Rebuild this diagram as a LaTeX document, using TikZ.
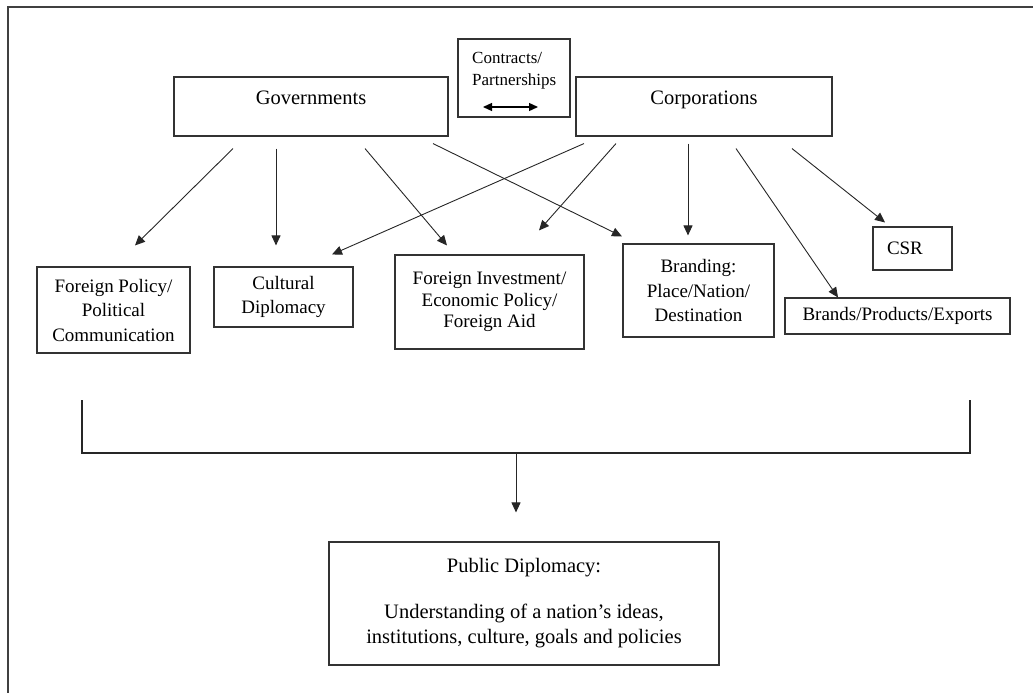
\documentclass[tikz,border=0pt]{standalone}
\usepackage{fontspec}
\setmainfont{Liberation Serif}
\usetikzlibrary{arrows.meta}
\tikzset{
  box/.style={draw=black!80, line width=1.1pt, inner sep=0pt, align=center,
    font=\fontsize{19}{24.5}\selectfont},
  arr/.style={-{Triangle[length=10pt,width=9pt]}, line width=0.9pt, black!85},
}
\begin{document}
\begin{tikzpicture}[x=1pt,y=-1pt]
\useasboundingbox (0,0) rectangle (1033,693);
\draw[line width=1.3pt, black!75] (8,693) -- (8,7) -- (1033,7);
%
\node[box, minimum width=274pt, text height=27pt, text depth=32pt,
  font=\fontsize{20.5}{25}\selectfont] (gov) at (311,106.5) {Governments};
\node[box, minimum width=256pt, text height=27pt, text depth=32pt,
  font=\fontsize{20.5}{25}\selectfont] (corp) at (704,106.5) {Corporations};
\node[box, minimum width=112pt, minimum height=78pt] (contr) at (514,78) {};
\node[anchor=north west, inner sep=0pt, align=left,
  font=\fontsize{17}{22}\selectfont] (contrtxt) at (472,52) {Contracts/\\Partnerships};
\coordinate (cl) at (483,107);
\coordinate (cr) at (538,107);
\draw[{Triangle[length=9pt,width=8pt]}-{Triangle[length=9pt,width=8pt]}, line width=1.3pt] (cl) -- (cr);
%
\node[box, minimum width=153pt, minimum height=86pt] (fp) at (113.5,310) {Foreign Policy/\\Political\\Communication};
\node[box, minimum width=139pt, minimum height=60pt] (cult) at (283.5,297) {Cultural\\Diplomacy};
\node[box, minimum width=189pt, minimum height=94pt,
  font=\fontsize{19}{21.7}\selectfont] (finv) at (489.5,302) {Foreign Investment/\\Economic Policy/\\Foreign Aid};
\node[box, minimum width=151pt, minimum height=93pt] (brand) at (698.5,290.5) {Branding:\\Place/Nation/\\Destination};
\node[box, minimum height=43pt, inner xsep=14pt, text width=51pt, align=left] (csr) at (912.5,248.5) {CSR};
\node[box, minimum width=225pt, minimum height=36pt] (brands) at (897.5,316) {Brands/Products/Exports};
%
\draw[arr] ([shift={(-78,12)}]gov.south) -- ([shift={(21.5,-21)}]fp.north);
\draw[arr] ([shift={(-35,12)}]gov.south) -- ([shift={(-7.5,-21)}]cult.north);
\draw[arr] ([shift={(54,12)}]gov.south) -- ([shift={(-42.5,-9)}]finv.north);
\draw[arr] ([shift={(122,7)}]gov.south) -- ([shift={(-76.5,-7)}]brand.north);
\draw[arr] ([shift={(-120,7)}]corp.south) -- ([shift={(48.5,-12)}]cult.north);
\draw[arr] ([shift={(-88,7)}]corp.south) -- ([shift={(49.5,-24)}]finv.north);
\draw[arr] ([shift={(-16,7)}]corp.south) -- ([shift={(-10.5,-8)}]brand.north);
\draw[arr] ([shift={(32,12)}]corp.south) -- ([shift={(-59.5,0)}]brands.north);
\draw[arr] ([shift={(88,12)}]corp.south) -- ([shift={(-27.5,-4)}]csr.north);
%
\node[box, minimum width=390pt, minimum height=123pt,
  font=\fontsize{20.5}{25}\selectfont] (pd) at (524,603.5)
  {Public Diplomacy:\\[21pt]Understanding of a nation's ideas,\\institutions, culture, goals and policies};
\coordinate (bl) at (82,400);
\coordinate (br) at (970,400);
\coordinate (bm) at (516,453);
\draw[line width=1.1pt, black!85] (bl) -- (bl |- bm) -- (br |- bm) -- (br);
\draw[arr] (bm) -- ([shift={(-8,-29)}]pd.north);
\end{tikzpicture}
\end{document}
